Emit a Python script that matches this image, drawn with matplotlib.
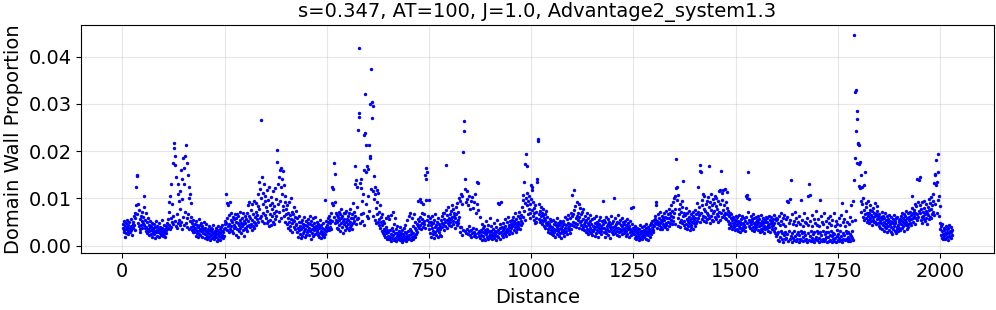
import numpy as np
import matplotlib
matplotlib.use("Agg")
import matplotlib.pyplot as plt

# Domain wall proportion, in units of 1e-4
dw_0001_0250 = [
    38,45,29,52,33,41,18,36,47,27,39,55,31,44,24,37,49,35,28,42,57,33,40,22,46,
    51,38,62,44,70,33,58,124,85,147,150,66,48,89,41,75,36,57,29,63,44,52,38,71,47,
    60,105,43,82,37,55,31,68,40,27,49,35,58,22,44,30,39,52,25,41,34,19,47,36,28,
    37,24,45,31,16,39,28,52,33,21,42,29,36,18,47,26,34,40,23,31,55,27,38,20,35,
    30,43,25,36,19,41,33,27,48,35,57,38,92,44,71,36,105,58,40,130,49,88,175,62,45,
    206,218,190,52,170,41,145,66,38,130,47,110,95,55,115,43,78,160,50,140,36,98,185,60,165,
    44,130,72,190,48,213,58,175,40,150,67,125,35,100,52,110,39,90,61,47,33,55,28,42,36,
    29,46,38,21,52,34,27,43,18,39,31,57,25,36,44,22,48,30,37,19,41,33,26,50,35,
    24,38,17,32,45,21,29,13,36,27,41,19,33,24,11,30,38,22,16,35,26,43,20,28,14,
    31,22,37,18,26,9,33,24,41,15,28,20,35,12,27,39,19,30,23,44,17,29,36,21,45,
]
dw_0251_0500 = [
    38,52,110,47,33,90,58,41,85,29,64,45,92,36,55,42,70,31,49,61,27,56,44,38,67,
    40,58,23,51,66,35,47,19,62,43,30,55,72,38,48,26,59,41,34,68,45,21,53,37,63,
    48,36,57,42,70,31,85,52,44,63,92,39,58,46,75,33,55,88,41,67,50,95,38,61,47,
    72,44,90,56,65,83,110,49,135,77,58,120,266,62,101,145,53,88,112,70,47,130,95,64,105,
    59,82,48,118,73,52,96,41,125,67,86,55,103,44,78,62,91,50,115,69,45,84,57,122,74,
    98,63,177,202,88,130,52,145,71,160,95,125,58,165,110,140,76,158,84,128,62,105,49,92,66,
    78,45,86,58,37,70,51,93,42,64,33,57,100,48,72,29,55,66,40,81,52,35,61,44,74,
    46,28,58,37,19,51,33,62,24,42,17,49,36,55,21,39,45,26,60,31,18,44,35,53,23,
    41,29,56,34,47,22,38,63,30,45,15,52,36,27,44,58,20,39,33,48,25,61,37,42,28,
    50,34,22,45,38,19,41,27,55,32,16,43,25,37,20,48,29,18,35,96,24,40,30,52,33,
]
dw_0501_0750 = [
    44,58,37,51,62,33,47,55,40,68,35,90,125,52,85,120,174,60,152,48,92,70,54,38,65,
    49,61,36,72,55,43,66,30,58,47,78,39,63,52,27,70,45,57,34,68,50,41,74,56,38,
    62,46,55,33,69,51,40,77,58,44,66,36,59,48,90,71,52,168,63,130,45,138,82,56,125,
    245,58,272,418,280,133,47,122,66,140,95,52,110,70,160,43,235,238,321,213,88,155,62,168,105,
    58,162,74,213,190,300,186,120,374,271,305,296,115,62,148,98,125,54,110,80,47,118,66,92,51,
    112,57,72,43,85,38,61,49,30,66,44,27,53,35,22,47,31,18,40,26,58,15,34,62,21,
    28,56,14,33,19,65,24,10,38,17,72,22,30,12,45,26,58,16,35,9,27,20,41,13,25,
    18,31,11,23,40,15,27,8,34,19,24,12,37,21,14,29,43,17,10,26,55,20,32,13,62,
    22,16,35,70,25,11,30,58,19,42,14,27,66,21,38,18,50,24,33,46,29,95,41,56,37,
    52,44,98,61,36,92,57,48,70,40,88,53,45,66,150,38,164,97,140,55,155,43,62,96,49,
]
dw_0751_1000 = [
    35,58,27,44,19,51,38,62,24,47,31,16,55,40,28,66,22,43,33,50,18,37,59,29,45,
    23,41,36,54,20,48,62,39,70,45,57,33,68,50,42,75,170,55,38,64,47,81,52,59,44,
    66,49,73,56,41,85,60,52,78,45,63,70,38,58,82,51,67,44,90,55,72,48,100,61,39,
    95,28,110,40,88,22,105,199,34,264,243,120,30,140,92,26,115,36,98,24,85,42,105,31,78,
    22,95,33,18,102,27,80,38,20,92,29,110,24,70,35,19,88,135,132,26,75,31,21,60,28,
    17,34,23,46,12,29,38,20,15,41,26,33,11,52,24,19,36,28,14,44,21,31,16,58,25,
    30,18,42,23,13,35,27,20,48,16,32,24,39,11,28,55,21,34,90,19,26,88,37,15,45,
    29,92,22,40,33,18,47,27,38,56,24,42,31,20,50,36,28,61,34,43,25,39,53,30,46,
    37,55,41,26,48,60,33,45,52,39,68,29,47,57,43,36,63,50,40,71,46,35,58,44,65,
    53,82,48,96,60,108,135,74,90,55,172,101,193,168,86,112,67,95,78,105,58,88,70,99,128,
]
dw_1001_1250 = [
    118,75,125,62,92,54,80,68,47,85,59,72,50,135,140,225,221,66,88,57,74,49,63,81,55,
    70,46,64,52,78,41,58,67,37,55,48,73,43,61,35,50,29,45,38,57,26,42,33,52,24,
    40,31,55,22,46,36,28,50,19,43,33,58,25,39,47,30,21,44,35,53,27,38,17,48,32,
    41,26,52,34,20,45,37,60,29,43,31,56,24,48,38,65,33,42,27,58,46,70,36,62,44,
    108,51,66,42,75,117,48,84,58,39,92,63,45,70,55,88,37,61,49,80,44,67,52,35,72,
    57,40,78,46,33,62,50,28,55,41,68,36,47,25,59,43,31,52,38,64,27,45,34,56,22,
    42,30,58,36,21,47,39,62,26,44,33,51,18,40,55,29,46,35,60,24,41,32,53,37,94,
    45,28,54,38,19,49,33,61,27,42,36,57,23,46,31,50,40,17,44,35,63,29,48,25,39,
    52,34,101,41,26,58,37,45,22,50,31,64,38,28,47,20,55,36,43,30,59,24,41,35,49,
    33,46,27,52,38,20,44,31,57,25,40,35,48,18,42,29,53,36,23,80,45,30,82,26,37,
]
dw_1251_1500 = [
    24,35,17,30,42,21,13,33,26,38,19,29,11,36,23,44,16,31,27,20,39,14,32,25,41,
    18,34,22,29,45,15,37,26,31,12,40,23,35,28,19,43,30,47,25,38,52,33,44,29,55,
    41,57,48,62,92,86,45,53,38,66,50,43,59,35,71,47,55,40,63,52,36,58,45,69,42,
    54,39,61,47,73,44,58,36,66,51,78,42,59,70,48,85,55,63,74,46,92,60,52,100,68,
    45,104,78,121,183,124,96,58,108,42,77,66,50,88,39,72,55,95,47,81,62,136,44,70,53,
    64,38,80,46,57,35,69,52,41,74,48,60,33,55,44,67,39,58,50,72,36,62,47,54,42,
    59,75,48,66,53,90,71,58,125,64,82,50,158,170,155,68,96,57,85,110,62,78,52,104,73,
    60,88,49,95,70,56,102,64,81,168,58,92,47,76,110,63,85,54,98,69,52,90,74,106,61,
    83,57,100,66,78,51,94,62,115,72,88,55,118,158,68,112,60,96,75,118,64,85,58,120,70,
    92,56,114,67,80,52,73,45,62,38,70,48,58,41,66,35,54,47,61,39,57,44,50,33,63,
]
dw_1501_1750 = [
    43,55,36,60,48,31,52,41,64,37,50,28,57,45,33,62,40,47,35,58,44,30,53,39,105,
    61,100,48,108,72,156,55,42,98,50,38,63,45,57,34,52,66,40,47,30,58,43,36,61,49,
    39,54,45,62,33,50,41,57,28,48,36,64,44,31,53,47,38,59,42,26,55,35,49,60,40,
    51,37,58,44,32,63,46,39,55,29,48,60,41,35,52,57,43,30,65,47,38,26,54,21,59,
    24,56,12,48,28,62,9,44,19,70,31,52,15,27,58,8,46,22,65,13,41,29,17,57,95,
    25,60,92,10,48,30,14,98,55,21,138,7,66,27,45,16,52,11,32,71,20,43,9,58,24,
    13,49,28,8,62,22,45,15,30,96,12,55,26,42,9,18,68,29,50,11,23,47,14,59,8,
    27,44,105,12,131,108,21,53,9,31,65,16,41,10,25,57,7,28,48,14,73,19,30,44,11,
    26,56,8,17,42,29,96,12,62,22,9,50,15,32,45,10,68,24,13,53,19,28,40,7,59,
    18,29,47,9,23,63,12,31,44,8,20,55,14,27,70,10,24,41,16,7,52,21,33,46,11,
]
dw_1751_2030 = [
    25,58,9,17,43,30,12,64,20,90,8,49,27,14,56,22,11,42,31,73,15,26,51,10,19,
    28,46,13,24,60,9,85,20,52,16,30,95,12,138,445,55,186,325,329,242,268,284,175,215,218,
    212,172,126,178,122,149,95,72,124,88,60,100,54,128,75,66,156,90,58,82,49,70,63,95,55,
    68,47,76,58,85,52,64,73,44,61,80,55,49,70,62,91,51,66,45,74,57,83,48,63,59,
    42,67,53,38,60,48,72,35,56,44,63,31,51,58,40,69,46,37,54,62,29,49,57,41,65,
    33,52,45,28,60,39,50,24,47,56,36,64,42,31,53,48,27,58,40,35,61,44,30,55,38,
    49,57,34,63,45,70,38,52,59,41,66,47,30,55,62,43,73,50,36,58,46,68,40,54,61,
    48,72,57,65,44,80,104,59,68,51,75,62,88,46,70,58,83,55,66,142,92,61,138,74,145,
    69,85,54,77,60,92,48,71,63,80,57,95,66,52,74,88,59,70,45,82,64,99,56,76,61,
    90,58,78,102,66,85,72,110,95,64,132,152,150,88,128,181,70,134,97,193,156,105,62,84,48,
    36,22,41,17,30,45,25,13,38,20,33,27,15,42,24,35,19,29,11,37,26,43,21,32,18,
    28,40,16,34,23,
]
segment_starts = [1, 251, 501, 751, 1001, 1251, 1501, 1751]
segments = [dw_0001_0250, dw_0251_0500, dw_0501_0750, dw_0751_1000,
            dw_1001_1250, dw_1251_1500, dw_1501_1750, dw_1751_2030]
UNIT = 1e-4

title = "s=0.347, AT=100, J=1.0, Advantage2_system1.3"
xlabel = "Distance"
ylabel = "Domain Wall Proportion"

distance = np.concatenate([start + np.arange(len(seg)) for start, seg in zip(segment_starts, segments)])
proportion = np.concatenate([np.asarray(seg, dtype=float) for seg in segments]) * UNIT

plt.rcParams['font.family'] = ['DejaVu Sans']
fig = plt.figure(figsize=(9.96, 3.10), dpi=100)
ax = fig.add_axes([0.0816, 0.185, 0.9161, 0.734])
ax.scatter(distance, proportion, s=6, c='blue', linewidths=0)
ax.set_title(title, fontsize=14)
ax.set_xlabel(xlabel, fontsize=14, labelpad=5)
ax.set_ylabel(ylabel, fontsize=14)
ax.tick_params(labelsize=14)
ax.grid(True, alpha=0.3)
ax.set_axisbelow(True)
fig.savefig("out.png", dpi=100)
